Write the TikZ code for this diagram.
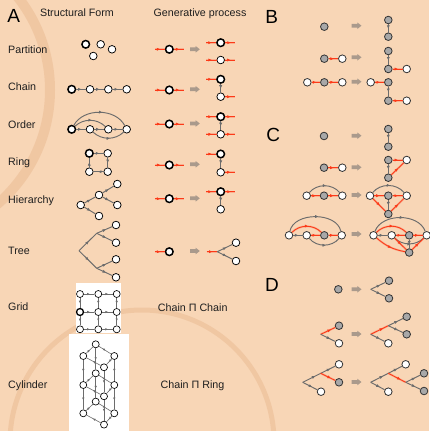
\documentclass[tikz,border=0pt]{standalone}
\usepackage{fontspec}
\setmainfont{Liberation Sans}
\usetikzlibrary{arrows.meta,decorations.markings,calc}
\definecolor{cBg}{RGB}{248,214,182}
\definecolor{cStain}{RGB}{228,176,132}
\definecolor{cEdge}{RGB}{108,108,108}
\definecolor{cRed}{RGB}{252,58,24}
\definecolor{cNodeGray}{RGB}{168,168,168}
\definecolor{cBlock}{RGB}{170,154,140}
\definecolor{cTxt}{RGB}{30,30,30}
\tikzset{
 midarr/.style={postaction={decorate}, decoration={markings, mark=at position #1 with {\arrow{Latex[length=3.4pt,width=3.2pt]}}}},
 midarr/.default=0.55,
 smallarr/.style={postaction={decorate}, decoration={markings, mark=at position #1 with {\arrow{Latex[length=2.6pt,width=2.5pt]}}}},
 smallarr/.default=0.55,
 ge/.style={cEdge, line width=0.95pt, midarr},
 gep/.style={cEdge, line width=0.95pt, midarr=#1},
 gs/.style={cEdge, line width=0.6pt, smallarr},
 re/.style={cRed, line width=0.85pt, preaction={draw=cRed, line width=2pt, opacity=0.25}, midarr},
 rep/.style={cRed, line width=0.85pt, preaction={draw=cRed, line width=2pt, opacity=0.25}, midarr=#1},
 nd/.style={circle, draw=black, fill=white, line width=0.75pt, minimum size=7.6pt, inner sep=0pt},
 bnd/.style={nd, line width=1.5pt},
 snd/.style={nd, minimum size=7pt, line width=0.65pt},
 wn/.style={circle, draw=black!80, fill=white, line width=0.8pt, minimum size=7.6pt, inner sep=0pt},
 gn/.style={wn, fill=cNodeGray},
 lab/.style={font=\fontsize{10.7}{12}\selectfont, text=cTxt, inner sep=0pt, anchor=base},
 biglab/.style={font=\fontsize{19}{19}\selectfont, text=black, inner sep=0pt, anchor=base},
 stainline/.style={cStain, line width=#1, opacity=0.38},
}
\newcommand{\lstub}[1]{\coordinate (#1-in) at ($(#1.center)+(-14.5,0)$); \draw[re] (#1-in) -- (#1);}
\newcommand{\rstub}[1]{\coordinate (#1-out) at ($(#1.center)+(14.5,0)$); \draw[re] (#1) -- (#1-out);}
\newcommand{\blockarrow}[2]{\fill[cBlock] (#1,#2) ++(0,-1.9) -- ++(5.6,0) -- ++(0,-1.4) -- ++(4.2,3.3) -- ++(-4.2,3.3) -- ++(0,-1.4) -- ++(-5.6,0) -- cycle;}
\begin{document}
\begin{tikzpicture}[x=1pt,y=-1pt]
\useasboundingbox (0,0) rectangle (429,431);
\fill[cBg] (0,0) rectangle (429,431);
\begin{scope}
\clip (0,0) rectangle (429,431);
\draw[stainline=10pt] (-100,90) circle (150);
\draw[stainline=5pt] (142,442) circle (132);
\end{scope}
% ---------------- Panel A headers
\node[biglab] (labA) at (13.7,22.7) {A};
\node[lab] (hSF) at (77,16.7) {Structural Form};
\node[lab] (hGP) at (200,16.7) {Generative process};
\node[lab, anchor=base west] (rPart) at (8,53.4) {Partition};
\node[lab, anchor=base west] (rChain) at (8,90.7) {Chain};
\node[lab, anchor=base west] (rOrder) at (8,128.7) {Order};
\node[lab, anchor=base west] (rRing) at (8,165.4) {Ring};
\node[lab, anchor=base west] (rHier) at (8,203.4) {Hierarchy};
\node[lab, anchor=base west] (rTree) at (8,254) {Tree};
\node[lab, anchor=base west] (rGrid) at (8,310.7) {Grid};
\node[lab, anchor=base west] (rCyl) at (8,388) {Cylinder};
\node[lab] (pCC) at (192.7,311) {Chain Π Chain};
\node[lab] (pCR) at (192.5,388) {Chain Π Ring};
% Partition
\node[bnd] (p1) at (85.7,44.3) {};
\node[nd] (p2) at (100.7,44.3) {};
\node[nd] (p3) at (112,49.3) {};
\node[nd] (p4) at (93.3,56) {};
% Chain
\node[bnd] (c1) at (71.7,89.3) {};
\node[nd] (c2) at (90,89.3) {};
\node[nd] (c3) at (108.3,89.3) {};
\node[nd] (c4) at (126.7,89.3) {};
\draw[ge] (c1) -- (c2); \draw[ge] (c2) -- (c3); \draw[ge] (c3) -- (c4);
% Order
\node[bnd] (o1) at (71.7,129.3) {};
\node[nd] (o2) at (90,129.3) {};
\node[nd] (o3) at (108.3,129.3) {};
\node[nd] (o4) at (126.7,129.3) {};
\draw[ge] (o1) -- (o2); \draw[ge] (o2) -- (o3); \draw[ge] (o3) -- (o4);
\draw[ge] (o1) to[bend left=62] (o4);
\draw[ge] (o1) to[bend left=43] (o3);
\draw[ge] (o2) to[bend right=43] (o4);
% Ring
\node[bnd] (r1) at (89.3,153.3) {};
\node[nd] (r2) at (107.7,153.3) {};
\node[nd] (r3) at (107.7,171.7) {};
\node[nd] (r4) at (89.3,171.7) {};
\draw[ge] (r1) -- (r2); \draw[ge] (r2) -- (r3); \draw[ge] (r3) -- (r4); \draw[ge] (r4) -- (r1);
% Hierarchy
\node[nd] (h0) at (80.7,205) {};
\node[nd] (h1) at (99,195) {};
\node[nd] (h2) at (99,216) {};
\node[nd] (h3) at (117.3,184) {};
\node[nd] (h4) at (117.3,205) {};
\draw[ge] (h0) -- (h1); \draw[ge] (h0) -- (h2); \draw[ge] (h1) -- (h3); \draw[ge] (h1) -- (h4);
% Tree
\coordinate (t0) at (79,250.7);
\coordinate (t1) at (96.7,233.3);
\coordinate (t2) at (96.7,268.3);
\node[nd] (l1) at (116,225) {};
\node[nd] (l2) at (116,242.7) {};
\node[nd] (l3) at (116,259.3) {};
\node[nd] (l4) at (116,277.3) {};
\draw[ge] (t0) -- (t1); \draw[ge] (t0) -- (t2);
\draw[gep=0.6] (t1) -- (l1); \draw[gep=0.6] (t1) -- (l2);
\draw[gep=0.6] (t2) -- (l3); \draw[gep=0.6] (t2) -- (l4);
% Grid
\fill[white] (76,282.7) rectangle (121,333.3);
\node[snd] (g11) at (80,294) {};
\node[snd] (g12) at (98.3,294) {};
\node[snd] (g13) at (116.7,294) {};
\node[snd, line width=1.3pt] (g21) at (80,312) {};
\node[snd] (g22) at (98.3,312) {};
\node[snd] (g23) at (116.7,312) {};
\node[snd] (g31) at (80,329.3) {};
\node[snd] (g32) at (98.3,329.3) {};
\node[snd] (g33) at (116.7,329.3) {};
\foreach \r in {1,2,3}{
  \draw[gs] (g\r1) -- (g\r2); \draw[gs] (g\r2) -- (g\r3);
  \draw[gs] (g1\r) -- (g2\r); \draw[gs] (g2\r) -- (g3\r);
}
% Cylinder
\fill[white] (69,334.3) rectangle (129,431);
\foreach \k/\Y in {1/356,2/385,3/413.3}{
  \node[snd] (cyL\k) at (83.3,\Y) {};
  \node[snd] (cyB\k) at (95.7,{\Y-11.7}) {};
  \node[snd] (cyR\k) at (114.3,\Y) {};
  \node[snd] (cyF\k) at (104,{\Y+11.3}) {};
  \draw[gs] (cyL\k) -- (cyB\k); \draw[gs] (cyB\k) -- (cyR\k);
  \draw[gs] (cyR\k) -- (cyF\k); \draw[gs] (cyF\k) -- (cyL\k);
}
\foreach \k/\m in {1/2,2/3}{
  \draw[gs] (cyL\k) -- (cyL\m); \draw[gs] (cyB\k) -- (cyB\m);
  \draw[gs] (cyR\k) -- (cyR\m); \draw[gs] (cyF\k) -- (cyF\m);
}
% Generative process column
\node[bnd] (gpP) at (169.3,49.3) {}; \lstub{gpP} \rstub{gpP}
\node[bnd] (gpC) at (169.3,90) {}; \lstub{gpC} \rstub{gpC}
\node[bnd] (gpO) at (169.3,124) {}; \lstub{gpO} \rstub{gpO}
\node[bnd] (gpR) at (169.3,165) {}; \lstub{gpR} \rstub{gpR}
\node[bnd] (gpH) at (169.3,198.7) {}; \lstub{gpH} \rstub{gpH}
\node[bnd] (gpT) at (169.3,251.7) {}; \lstub{gpT}
\blockarrow{190}{49.3}
\blockarrow{190}{89.3}
\blockarrow{190}{123.5}
\blockarrow{190}{164.3}
\blockarrow{190}{198.3}
\blockarrow{190}{251}
% results
\node[bnd] (xP1) at (220.7,42.7) {}; \lstub{xP1} \rstub{xP1}
\node[nd] (xP2) at (220.7,60) {}; \lstub{xP2} \rstub{xP2}
\node[bnd] (xC1) at (220.7,79.3) {}; \lstub{xC1}
\node[nd] (xC2) at (220.7,96.7) {}; \rstub{xC2}
\draw[ge] (xC1) -- (xC2);
\node[bnd] (xO1) at (220.7,116.7) {}; \lstub{xO1} \rstub{xO1}
\node[nd] (xO2) at (220.7,134.3) {}; \lstub{xO2} \rstub{xO2}
\draw[ge] (xO1) -- (xO2);
\node[bnd] (xR1) at (220.7,154) {}; \lstub{xR1}
\node[nd] (xR2) at (220.7,172.3) {}; \rstub{xR2}
\draw[ge] (xR1) -- (xR2);
\node[bnd] (xH1) at (220.7,191.7) {}; \lstub{xH1} \rstub{xH1}
\node[nd] (xH2) at (220.7,209.3) {};
\draw[ge] (xH1) -- (xH2);
\coordinate (xT0) at (217.3,251.7);
\coordinate (xTin) at (206.5,251.7);
\node[nd] (xT1) at (236,242.7) {};
\node[nd] (xT2) at (236,261) {};
\draw[re] (xTin) -- (xT0);
\draw[gep=0.6] (xT0) -- (xT1); \draw[gep=0.6] (xT0) -- (xT2);
% ---------------- Panel B
\node[biglab] (labB) at (271.7,23.3) {B};
\node[gn] (B1a) at (324.3,26.7) {};
\blockarrow{351.7}{25.7}
\node[gn] (B1b) at (388.3,20) {};
\node[gn] (B1c) at (388.3,36.7) {};
\draw[ge] (B1b) -- (B1c);
\node[gn] (B2a) at (324.3,58.7) {};
\node[wn] (B2b) at (342.3,58.7) {};
\draw[re] (B2a) -- (B2b);
\blockarrow{351.7}{57.3}
\node[gn] (B2c) at (388.3,51) {};
\node[gn] (B2d) at (388.3,69) {};
\node[wn] (B2e) at (406.7,69) {};
\draw[ge] (B2c) -- (B2d); \draw[re] (B2d) -- (B2e);
\node[wn] (B3a) at (307.3,82.3) {};
\node[gn] (B3b) at (324.3,82.3) {};
\node[wn] (B3c) at (342.3,82.3) {};
\draw[re] (B3a) -- (B3b); \draw[re] (B3b) -- (B3c);
\blockarrow{351.7}{81.7}
\node[wn] (B3d) at (370.7,82.3) {};
\node[gn] (B3e) at (388.3,82.3) {};
\node[gn] (B3f) at (388.3,100.7) {};
\node[wn] (B3g) at (406.7,100.7) {};
\draw[re] (B3d) -- (B3e); \draw[ge] (B3e) -- (B3f); \draw[re] (B3f) -- (B3g);
% ---------------- Panel C
\node[biglab] (labC) at (273.3,141) {C};
\node[gn] (C1a) at (324,136) {};
\blockarrow{351.7}{135.7}
\node[gn] (C1b) at (388.3,129) {};
\node[gn] (C1c) at (388.3,146.7) {};
\draw[ge] (C1b) -- (C1c);
\node[gn] (C2a) at (324,167.7) {};
\node[wn] (C2b) at (342.3,167.7) {};
\draw[re] (C2a) -- (C2b);
\blockarrow{351.7}{167.3}
\node[gn] (C2c) at (388.3,160) {};
\node[wn] (C2d) at (406.7,160) {};
\node[gn] (C2e) at (388.3,177.7) {};
\draw[re] (C2c) -- (C2d); \draw[ge] (C2c) -- (C2e); \draw[re] (C2e) -- (C2d);
\node[wn] (C3a) at (306.7,195.7) {};
\node[gn] (C3b) at (324,195.7) {};
\node[wn] (C3c) at (342.3,195.7) {};
\draw[re] (C3a) -- (C3b); \draw[re] (C3b) -- (C3c);
\draw[ge] (C3a) to[bend left=50] (C3c);
\blockarrow{351.7}{195}
\node[wn] (C3d) at (370,195.7) {};
\node[gn] (C3e) at (388.3,195.7) {};
\node[wn] (C3f) at (406.7,195.7) {};
\node[gn] (C3g) at (388.3,214) {};
\draw[ge] (C3d) to[bend left=50] (C3f);
\draw[re] (C3d) -- (C3e); \draw[re] (C3e) -- (C3f);
\draw[ge] (C3e) -- (C3g);
\draw[re] (C3d) -- (C3g); \draw[re] (C3g) -- (C3f);
\node[wn] (C4a) at (289,235.3) {};
\node[wn] (C4b) at (306.7,235.3) {};
\node[gn] (C4c) at (324.3,235.3) {};
\node[wn] (C4d) at (341.7,235.3) {};
\draw[ge] (C4a) -- (C4b); \draw[re] (C4b) -- (C4c); \draw[re] (C4c) -- (C4d);
\draw[ge] (C4a) to[bend left=78] (C4d);
\draw[re] (C4a) to[bend left=45] (C4c);
\draw[ge] (C4b) to[bend right=50] (C4d);
\blockarrow{351.7}{234}
\node[wn] (C4e) at (373.5,235.3) {};
\node[wn] (C4f) at (391.7,235.3) {};
\node[gn] (C4g) at (409.2,235.3) {};
\node[wn] (C4h) at (426.7,235.3) {};
\node[gn] (C4i) at (409.2,252.5) {};
\draw[ge] (C4e) to[bend left=70] (C4h);
\draw[re] (C4e) to[bend left=45] (C4g);
\draw[ge] (C4e) -- (C4f); \draw[re] (C4f) -- (C4g); \draw[re] (C4g) -- (C4h);
\draw[ge] (C4f) to[bend right=43] (C4h);
\draw[ge] (C4g) -- (C4i);
\draw[re] (C4e) to[bend right=15] (C4i);
\draw[re] (C4f) -- (C4i);
\draw[re] (C4i) -- (C4h);
% ---------------- Panel D
\node[biglab] (labD) at (272,291) {D};
\node[gn] (D1a) at (338.3,289.3) {};
\blockarrow{351.7}{289.3}
\coordinate (D1r) at (370.7,289.3);
\node[gn] (D1b) at (389,280.7) {};
\node[gn] (D1c) at (389,298.3) {};
\draw[gep=0.65] (D1r) -- (D1b); \draw[gep=0.65] (D1r) -- (D1c);
\coordinate (D2r) at (320.7,334.3);
\node[gn] (D2a) at (339,325.7) {};
\node[wn] (D2b) at (339,343.3) {};
\draw[rep=0.7] (D2r) -- (D2a); \draw[gep=0.65] (D2r) -- (D2b);
\blockarrow{351.7}{334}
\coordinate (D2s) at (370.7,334.3);
\coordinate (D2i) at (388.3,325.7);
\node[gn] (D2c) at (406.7,316.7) {};
\node[gn] (D2d) at (406.7,334.3) {};
\node[wn] (D2e) at (388.3,343.3) {};
\draw[rep=0.7] (D2s) -- (D2i);
\draw[gep=0.65] (D2i) -- (D2c); \draw[gep=0.65] (D2i) -- (D2d);
\draw[gep=0.65] (D2s) -- (D2e);
\coordinate (D3r) at (302.7,382.3);
\coordinate (D3i) at (320.7,373.3);
\node[wn] (D3a) at (339,364.3) {};
\node[gn] (D3b) at (339,382.3) {};
\node[wn] (D3c) at (321,391.7) {};
\draw[gep=0.7] (D3r) -- (D3i); \draw[gep=0.65] (D3i) -- (D3a);
\draw[rep=0.7] (D3i) -- (D3b); \draw[gep=0.65] (D3r) -- (D3c);
\blockarrow{351.7}{382}
\coordinate (D3s) at (370.7,382.3);
\coordinate (D3j) at (388.3,373.3);
\node[wn] (D3d) at (405.7,364.3) {};
\coordinate (D3k) at (405.7,382.3);
\node[gn] (D3e) at (424,373.3) {};
\node[gn] (D3f) at (424,391) {};
\node[wn] (D3g) at (388.3,391.7) {};
\draw[gep=0.7] (D3s) -- (D3j); \draw[gep=0.65] (D3j) -- (D3d);
\draw[rep=0.7] (D3j) -- (D3k);
\draw[gep=0.65] (D3k) -- (D3e); \draw[gep=0.65] (D3k) -- (D3f);
\draw[gep=0.65] (D3s) -- (D3g);
\end{tikzpicture}
\end{document}
